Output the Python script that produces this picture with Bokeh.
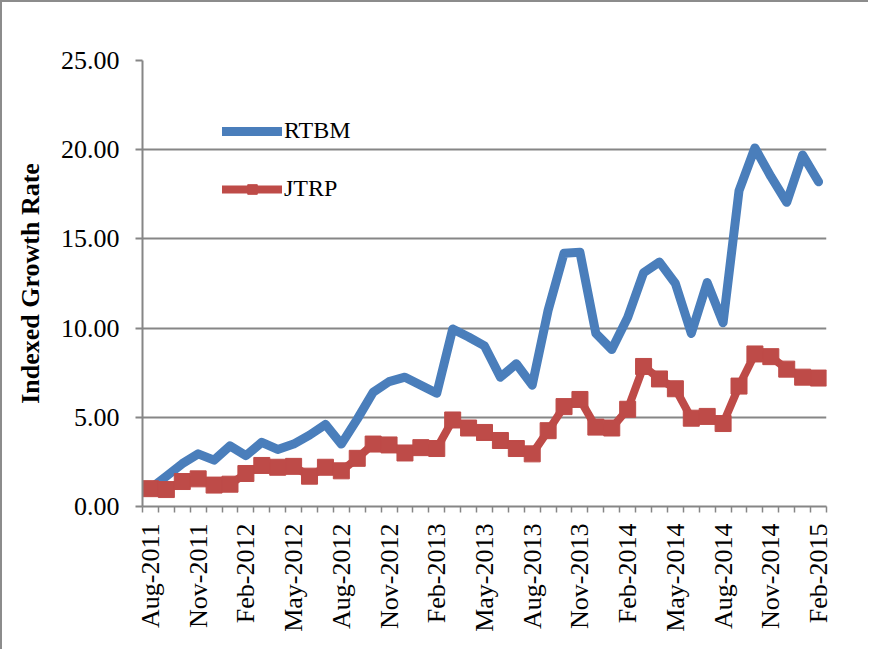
import math
from bokeh.plotting import figure
from bokeh.models import Range1d, FixedTicker, Legend, LegendItem, NumeralTickFormatter
from bokeh.embed import file_html
from bokeh.resources import INLINE

months = ["Aug-2011", "Sep-2011", "Oct-2011", "Nov-2011", "Dec-2011", "Jan-2012",
          "Feb-2012", "Mar-2012", "Apr-2012", "May-2012", "Jun-2012", "Jul-2012",
          "Aug-2012", "Sep-2012", "Oct-2012", "Nov-2012", "Dec-2012", "Jan-2013",
          "Feb-2013", "Mar-2013", "Apr-2013", "May-2013", "Jun-2013", "Jul-2013",
          "Aug-2013", "Sep-2013", "Oct-2013", "Nov-2013", "Dec-2013", "Jan-2014",
          "Feb-2014", "Mar-2014", "Apr-2014", "May-2014", "Jun-2014", "Jul-2014",
          "Aug-2014", "Sep-2014", "Oct-2014", "Nov-2014", "Dec-2014", "Jan-2015",
          "Feb-2015"]

rtbm = [1.0, 1.7, 2.4, 2.95, 2.6, 3.4, 2.85, 3.6, 3.2, 3.5, 4.0, 4.6, 3.5, 4.9,
        6.4, 7.0, 7.25, 6.8, 6.35, 9.95, 9.5, 9.0, 7.25, 8.0, 6.8, 11.0, 14.2,
        14.25, 9.7, 8.8, 10.6, 13.1, 13.7, 12.5, 9.7, 12.55, 10.3, 17.7, 20.1,
        18.5, 17.05, 19.7, 18.2]

jtrp = [1.0, 0.95, 1.4, 1.55, 1.2, 1.25, 1.85, 2.3, 2.2, 2.25, 1.7, 2.2, 2.0,
        2.7, 3.5, 3.45, 3.0, 3.3, 3.25, 4.85, 4.4, 4.15, 3.7, 3.25, 2.95, 4.25,
        5.6, 6.0, 4.45, 4.4, 5.45, 7.85, 7.15, 6.6, 4.95, 5.05, 4.65, 6.75, 8.55,
        8.4, 7.7, 7.25, 7.2]

y_ticks = [0, 5, 10, 15, 20, 25]
label_every = 3

x = list(range(len(months)))
GRAY = "#868686"
FONT = "Liberation Serif"

p = figure(width=868, height=649, output_backend="svg", toolbar_location=None,
           x_range=Range1d(-0.5, len(months) - 0.5), y_range=Range1d(0, 25),
           min_border_left=140, min_border_right=44, min_border_top=58,
           min_border_bottom=145)
p.outline_line_color = None
p.background_fill_color = "white"
p.border_fill_color = "white"
p.styles = {"border-left": "2px solid #8c8c8c", "border-top": "2px solid #8c8c8c"}

# y axis
p.yaxis.ticker = FixedTicker(ticks=y_ticks)
p.yaxis.formatter = NumeralTickFormatter(format="0.00")
p.yaxis.axis_line_color = GRAY
p.yaxis.axis_line_width = 2
p.yaxis.major_tick_line_color = GRAY
p.yaxis.major_tick_line_width = 2
p.yaxis.major_tick_out = 7
p.yaxis.major_tick_in = 0
p.yaxis.minor_tick_line_color = None
p.yaxis.major_label_text_font = FONT
p.yaxis.major_label_text_font_size = "26px"
p.yaxis.major_label_text_color = "black"
p.yaxis.major_label_standoff = 16
p.yaxis.axis_label = "Indexed Growth Rate"
p.yaxis.axis_label_text_font = FONT
p.yaxis.axis_label_text_font_style = "bold"
p.yaxis.axis_label_text_font_size = "26px"
p.yaxis.axis_label_text_color = "black"
p.yaxis.axis_label_standoff = 13

# x axis
major = x[::label_every]
minor = [i - 0.5 for i in x] + [x[-1] + 0.5]
p.xaxis.ticker = FixedTicker(ticks=major, minor_ticks=minor)
p.xaxis.major_label_overrides = {i: months[i] for i in major}
p.xaxis.major_label_orientation = math.pi / 2
p.xaxis.axis_line_color = GRAY
p.xaxis.axis_line_width = 2
p.xaxis.major_tick_line_color = None
p.xaxis.major_tick_out = 0
p.xaxis.major_tick_in = 0
p.xaxis.minor_tick_line_color = GRAY
p.xaxis.minor_tick_line_width = 1.5
p.xaxis.minor_tick_out = 6
p.xaxis.minor_tick_in = 0
p.xaxis.major_label_text_font = FONT
p.xaxis.major_label_text_font_size = "26px"
p.xaxis.major_label_text_color = "black"
p.xaxis.major_label_standoff = 11

p.xgrid.grid_line_color = None
p.ygrid.grid_line_color = GRAY
p.ygrid.grid_line_width = 2
p.ygrid.ticker = FixedTicker(ticks=y_ticks)

blue = p.line(x, rtbm, line_color="#4a7ebb", line_width=9,
              line_join="round", line_cap="round")
red_line = p.line(x, jtrp, line_color="#be4b48", line_width=8,
                  line_join="round", line_cap="round")
red_pts = p.scatter(x, jtrp, marker="square", size=16, fill_color="#be4b48",
                    line_color="#be4b48")

legend = Legend(items=[LegendItem(label="RTBM", renderers=[blue]),
                       LegendItem(label="JTRP", renderers=[red_line, red_pts])],
                location=(80, 304), glyph_width=60, glyph_height=24,
                label_height=24, spacing=31, padding=0, margin=0,
                border_line_color=None, background_fill_alpha=0,
                label_text_font=FONT, label_text_font_size="24px",
                label_text_color="black", label_standoff=2)
p.add_layout(legend)

open("out.html", "w").write(file_html(p, INLINE))
